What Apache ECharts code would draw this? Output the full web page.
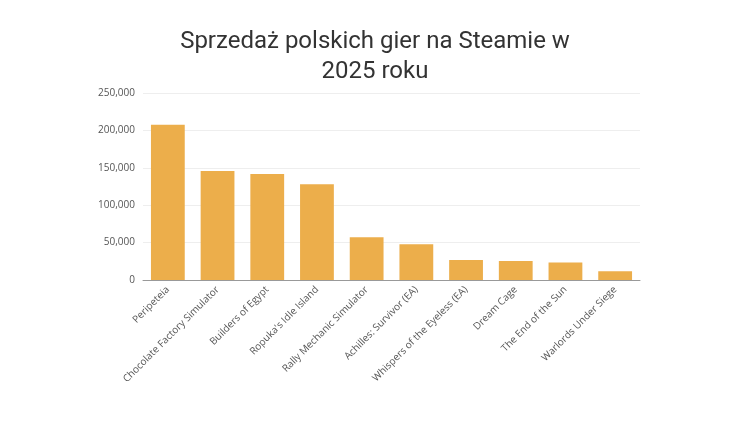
<!DOCTYPE html>
<html>
<head>
<meta charset="utf-8">
<script src="https://cdn.jsdelivr.net/npm/echarts@6/dist/echarts.min.js"></script>
<style>html,body{margin:0;background:#fff}#chart{width:750px;height:422px}</style>
</head>
<body>
<div id="chart"></div>
<script>
const games = ['Peripeteia', 'Chocolate Factory Simulator', 'Builders of Egypt', "Ropuka's Idle Island",
  'Rally Mechanic Simulator', 'Achilles: Survivor (EA)', 'Whispers of the Eyeless (EA)', 'Dream Cage',
  'The End of the Sun', 'Warlords Under Siege'];
const sales = [207500, 145800, 141800, 127900, 57200, 47900, 26800, 25500, 23300, 11600];

const chart = echarts.init(document.getElementById('chart'));
chart.setOption({
  animation: false,
  title: {
    text: 'Sprzedaż polskich gier na Steamie w\n2025 roku',
    left: 'center', top: 22,
    textStyle: { fontFamily: 'Roboto', fontWeight: 'normal', fontSize: 24, color: '#333', lineHeight: 30 }
  },
  grid: { left: 143, right: 110, top: 93, bottom: 142 },
  xAxis: {
    type: 'category', data: games,
    axisTick: { alignWithLabel: false },
    axisLine: { lineStyle: { color: '#999' } },
    axisLabel: { rotate: 45, interval: 0, fontSize: 10, color: '#555', fontFamily: 'Open Sans' }
  },
  yAxis: {
    type: 'value', min: 0, max: 250000, interval: 50000,
    axisLabel: { fontSize: 10, color: '#555', fontFamily: 'Open Sans',
      formatter: v => v.toLocaleString('en-US') },
    splitLine: { lineStyle: { color: '#eee' } }
  },
  series: [{ type: 'bar', data: sales, barWidth: '68%', itemStyle: { color: '#ecae4b' } }]
});
</script>
</body>
</html>
